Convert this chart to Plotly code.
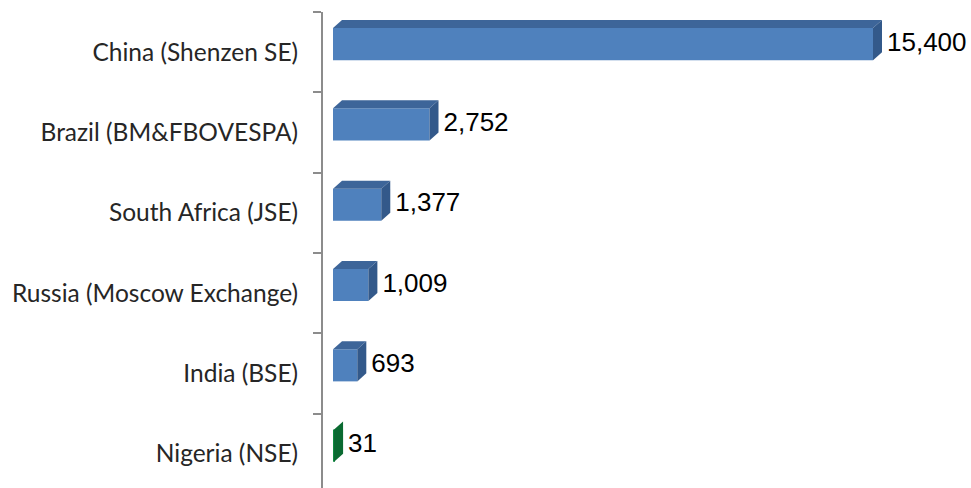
import plotly.graph_objects as go

# ---- data (top to bottom as shown) ----
exchanges = ["China (Shenzen SE)", "Brazil (BM&FBOVESPA)", "South Africa (JSE)",
             "Russia (Moscow Exchange)", "India (BSE)", "Nigeria (NSE)"]
listed_companies = [15400, 2752, 1377, 1009, 693, 31]
highlight = "Nigeria (NSE)"

# ---- layout constants ----
W, H = 971, 488
L_MARGIN, T_MARGIN = 323, 12
UNITS_PER_PX = 15400 / 540.0
X_MIN = -10 * UNITS_PER_PX
X_MAX = X_MIN + (W - L_MARGIN) * UNITS_PER_PX
DEPTH_X = 9 * UNITS_PER_PX      # 3D depth in x units
DEPTH_Y = 0.1                   # 3D depth in category units
FACE_H = 0.4
FACE_OFF = 0.1
LABEL_GAP = 5 * UNITS_PER_PX

n = len(exchanges)
pos = [n - 1 - k for k in range(n)]  # China at top

blue = dict(front="#4F81BD", top="#3D6599", side="#33598A")
green = dict(front="#0F8A40", top="#0C7436", side="#0A6A31")

fig = go.Figure()

for name, v, y in zip(exchanges, listed_companies, pos):
    c = green if name == highlight else blue
    y0 = y + FACE_OFF - FACE_H / 2
    y1 = y + FACE_OFF + FACE_H / 2
    # front face
    fig.add_trace(go.Bar(x=[v], y=[y + FACE_OFF], base=0, width=FACE_H, orientation="h",
                         marker=dict(color=c["front"], line=dict(width=0)),
                         hoverinfo="skip", showlegend=False))
    # top face
    fig.add_trace(go.Scatter(x=[0, DEPTH_X, v + DEPTH_X, v, 0],
                             y=[y1, y1 + DEPTH_Y, y1 + DEPTH_Y, y1, y1],
                             fill="toself", fillcolor=c["top"], mode="lines",
                             line=dict(width=0, color=c["top"]),
                             hoverinfo="skip", showlegend=False))
    # side face
    fig.add_trace(go.Scatter(x=[v, v, v + DEPTH_X, v + DEPTH_X, v],
                             y=[y0, y1, y1 + DEPTH_Y, y0 + DEPTH_Y, y0],
                             fill="toself", fillcolor=c["side"], mode="lines",
                             line=dict(width=0, color=c["side"]),
                             hoverinfo="skip", showlegend=False))

# value labels
fig.add_trace(go.Scatter(x=[v + DEPTH_X + LABEL_GAP for v in listed_companies],
                         y=[p + FACE_OFF for p in pos],
                         mode="text", text=[f"{v:,}" for v in listed_companies],
                         textposition="middle right",
                         textfont=dict(family="Liberation Sans, Arial", size=26, color="#000000"),
                         cliponaxis=False, hoverinfo="skip", showlegend=False))

fig.update_layout(
    width=W, height=H,
    margin=dict(l=L_MARGIN, r=0, t=T_MARGIN, b=0),
    paper_bgcolor="white", plot_bgcolor="white",
    barmode="overlay",
    xaxis=dict(range=[X_MIN, X_MAX], visible=False, fixedrange=True),
    yaxis=dict(
        range=[5.5 - (H - T_MARGIN) / 80.3, 5.5],
        tickvals=pos, ticktext=exchanges,
        ticks="outside", ticklen=18, tickcolor="rgba(0,0,0,0)",
        tickfont=dict(family="Lato, Carlito, Calibri", size=24.5, color="#262626"),
        showline=True, linecolor="#8C8C8C", linewidth=2,
        showgrid=False, zeroline=False,
        minor=dict(tickvals=[k - 0.5 for k in range(n + 1)], ticks="outside",
                   ticklen=8, tickcolor="#8C8C8C", tickwidth=2, showgrid=False),
        fixedrange=True,
    ),
)

fig.write_html("out.html", config={"displayModeBar": False},
               post_script="document.body.style.margin='0';document.body.style.overflow='hidden';")
